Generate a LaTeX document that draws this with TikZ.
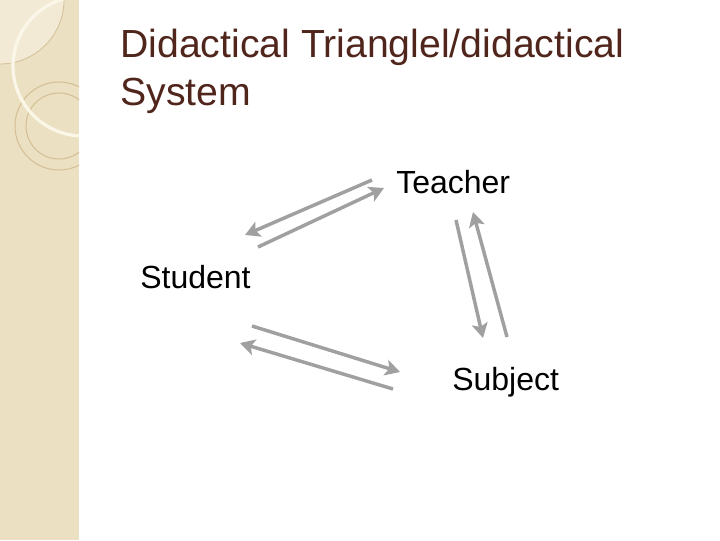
\documentclass[tikz,border=0pt]{standalone}
\usepackage{fontspec}
\setmainfont{Liberation Sans}
\usetikzlibrary{arrows.meta}
\definecolor{band}{RGB}{236,224,194}
\definecolor{bandlight}{RGB}{242,234,212}
\definecolor{tanline}{RGB}{212,192,150}
\definecolor{arcwhite}{RGB}{251,247,232}
\definecolor{titlecol}{RGB}{80,38,28}
\definecolor{arrowgray}{RGB}{160,160,160}
\tikzset{
  lbl/.style={anchor=base west, inner sep=0pt, font=\fontsize{24pt}{28pt}\selectfont},
  ttl/.style={anchor=base west, inner sep=0pt, text=titlecol, font=\fontsize{29.4pt}{36pt}\selectfont},
  arr/.style={draw=arrowgray, line width=2.6pt, -{Stealth[length=11pt,width=12pt,inset=2.5pt]}}
}
\begin{document}
\begin{tikzpicture}[x=0.75pt,y=-0.75pt]
\useasboundingbox (0,0) rectangle (720,540);
\fill[white] (0,0) rectangle (720,540);
% left band
\begin{scope}
\clip (0,0) rectangle (79,540);
\fill[band] (0,0) rectangle (79,540);
\fill[bandlight] (0,0) circle[radius=64];
\draw[tanline, line width=0.6pt] (0,0) circle[radius=64];
\draw[tanline, line width=0.8pt] (59,126) circle[radius=44];
\draw[tanline, line width=0.8pt] (59,126) circle[radius=33];
\draw[arcwhite, line width=2.4pt] (83,66) circle[radius=70];
\end{scope}
% title
\node[ttl] (t1) at (120,57) {Didactical Trianglel/didactical};
\node[ttl] (t2) at (120,105) {System};
% labels
\node[lbl] (teacher) at (396,193) {Teacher};
\node[lbl] (student) at (140,288) {Student};
\node[lbl] (subject) at (452,390) {Subject};
% arrow endpoints
\coordinate (a1) at (372,180);
\coordinate (a2) at (245,235);
\coordinate (b1) at (258,247);
\coordinate (b2) at (384,188);
\coordinate (c1) at (252,326);
\coordinate (c2) at (400,372);
\coordinate (d1) at (393,389);
\coordinate (d2) at (240,343);
\coordinate (e1) at (456,220);
\coordinate (e2) at (483,338);
\coordinate (f1) at (507,337);
\coordinate (f2) at (473,212);
\draw[arr] (a1) -- (a2);
\draw[arr] (b1) -- (b2);
\draw[arr] (c1) -- (c2);
\draw[arr] (d1) -- (d2);
\draw[arr] (e1) -- (e2);
\draw[arr] (f1) -- (f2);
\end{tikzpicture}
\end{document}
